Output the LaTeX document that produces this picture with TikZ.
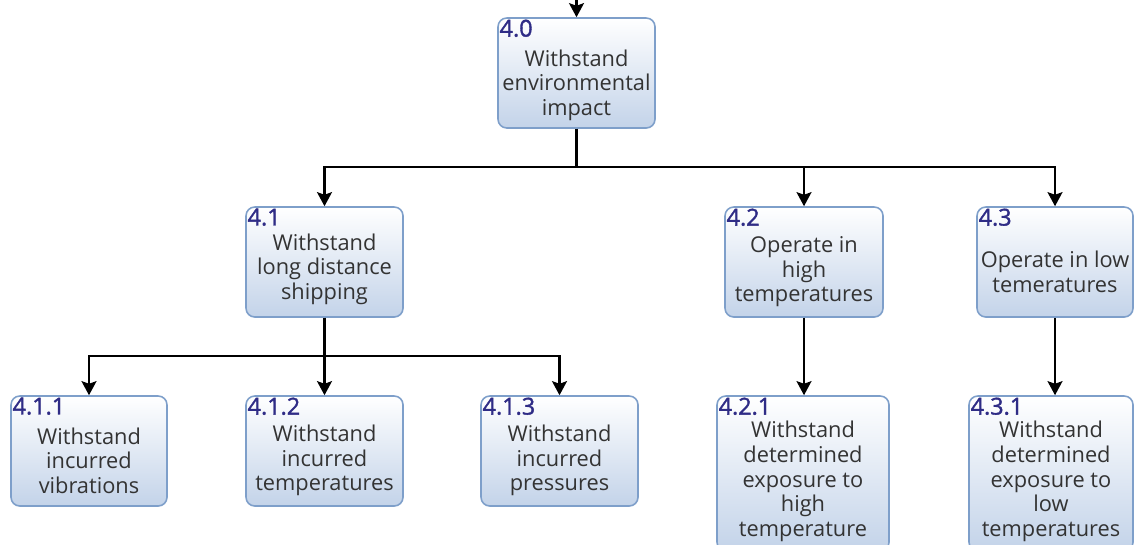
\documentclass[tikz,border=0pt]{standalone}
\usepackage{fontspec}
\setmainfont{Open Sans}
\newfontfamily\numfont[FakeBold=1.5]{Open Sans}
\usetikzlibrary{positioning,arrows.meta}
\definecolor{boxedge}{HTML}{7E9FCA}
\definecolor{boxbottom}{HTML}{C3D3E9}
\definecolor{numblue}{HTML}{2F2C86}
\definecolor{textgray}{HTML}{333333}

\begin{document}
\begin{tikzpicture}[goalnode/.style={rectangle, rounded corners=5pt, draw=boxedge, line width=0.9pt, top color=white, bottom color=boxbottom, minimum width=3.14cm, minimum height=2.2cm},
        goaltext/.style={align=center, text=textgray, font=\fontsize{12.4}{14}\selectfont, inner sep=0pt},
        goalnum/.style={anchor=north west, inner sep=1.2pt, text=numblue, font=\numfont\fontsize{13.3}{13}\selectfont},
        link/.style={line width=1.3pt, -{Stealth[length=8pt,width=8.5pt,inset=1.5pt]}}]

        \clip (0,0) rectangle (22.7,-10.88);

        % level 0
        \node[goalnode] (g40) at (11.53,-1.46) {};
        \node[goalnum] at (g40.north west) {4.0};
        \node[goaltext] at ([yshift=-0.24cm]g40.center) {Withstand\\environmental\\impact};
        \coordinate (top) at (11.53,0.2);

        % level 1
        \node[goalnode] (g41) at (6.49,-5.24) {};
        \node[goalnum] at (g41.north west) {4.1};
        \node[goaltext] at ([yshift=-0.14cm]g41.center) {Withstand\\long distance\\shipping};

        \node[goalnode, minimum width=3.16cm] (g42) at (16.08,-5.24) {};
        \node[goalnum] at (g42.north west) {4.2};
        \node[goaltext] at ([yshift=-0.2cm]g42.center) {Operate in\\high\\temperatures};

        \node[goalnode, minimum width=3.12cm] (g43) at (21.1,-5.24) {};
        \node[goalnum] at (g43.north west) {4.3};
        \node[goaltext] at ([yshift=-0.2cm]g43.center) {Operate in low\\temeratures};

        % level 2
        \node[goalnode, minimum width=3.12cm] (g411) at (1.78,-9.02) {};
        \node[goalnum] at (g411.north west) {4.1.1};
        \node[goaltext] at ([yshift=-0.19cm]g411.center) {Withstand\\incurred\\vibrations};

        \node[goalnode] (g412) at (6.49,-9.02) {};
        \node[goalnum] at (g412.north west) {4.1.2};
        \node[goaltext] at ([yshift=-0.19cm]g412.center) {Withstand\\incurred\\temperatures};

        \node[goalnode] (g413) at (11.19,-9.02) {};
        \node[goalnum] at (g413.north west) {4.1.3};
        \node[goaltext] at ([yshift=-0.19cm]g413.center) {Withstand\\incurred\\pressures};

        \node[goalnode, minimum width=3.44cm, minimum height=3.1cm] (g421) at (16.06,-9.47) {};
        \node[goalnum] at (g421.north west) {4.2.1};
        \node[goaltext] at ([yshift=-0.16cm]g421.center) {Withstand\\determined\\exposure to\\high\\temperature};

        \node[goalnode, minimum width=3.28cm, minimum height=3.1cm] (g431) at (21.02,-9.47) {};
        \node[goalnum] at (g431.north west) {4.3.1};
        \node[goaltext] at ([yshift=-0.16cm]g431.center) {Withstand\\determined\\exposure to\\low\\temperatures};

        % connectors
        \draw[link] (top) -- (g40.north);
        \draw[link] (g40.south) -- ++(0,-0.76) -| (g41.north);
        \draw[link] (g40.south) -- ++(0,-0.76) -| (g42.north);
        \draw[link] (g40.south) -- ++(0,-0.76) -| (g43.north);
        \draw[link] (g41.south) -- ++(0,-0.76) -| (g411.north);
        \draw[link] (g41.south) -- (g412.north);
        \draw[link] (g41.south) -- ++(0,-0.76) -| (g413.north);
        \draw[link] (g42.south) -- (g42.south |- g421.north);
        \draw[link] (g43.south) -- (g43.south |- g431.north);

        \end{tikzpicture}
\end{document}
